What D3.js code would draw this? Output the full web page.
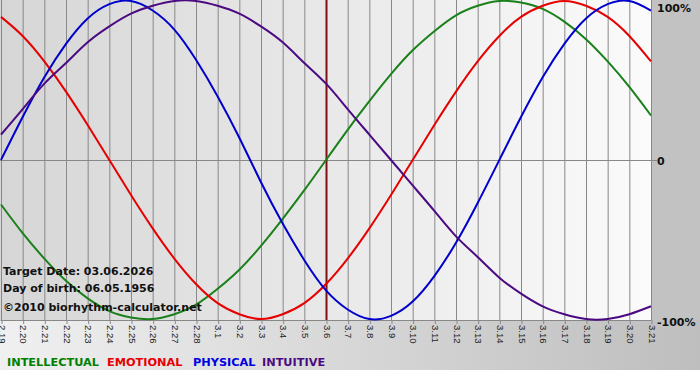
<!DOCTYPE html>
<html>
<head>
<meta charset="UTF-8">
<title>Biorhythm</title>
<script src="https://d3js.org/d3.v7.min.js"></script>
<style>
  body { margin: 0; background: #fff; }
  svg { display: block; font-family: Verdana, "DejaVu Sans", sans-serif; }
</style>
</head>
<body>
<svg id="chart"></svg>
<script>
// days shown (month.day)
const days = ["2.19","2.20","2.21","2.22","2.23","2.24","2.25","2.26","2.27","2.28",
  "3.1","3.2","3.3","3.4","3.5","3.6","3.7","3.8","3.9","3.10","3.11","3.12","3.13",
  "3.14","3.15","3.16","3.17","3.18","3.19","3.20","3.21"];
const targetDay = "3.6";

// values, -1..1
const intellectual = [-0.28,-0.46,-0.62,-0.76,-0.87,-0.95,-0.99,-1.00,-0.97,-0.91,
  -0.81,-0.69,-0.54,-0.37,-0.19,0.00,0.19,0.37,0.54,0.69,0.81,0.91,0.97,1.00,0.99,
  0.95,0.87,0.76,0.62,0.46,0.28];
const emotional = [0.90,0.78,0.62,0.43,0.22,0.00,-0.22,-0.43,-0.62,-0.78,-0.90,-0.97,
  -1.00,-0.97,-0.90,-0.78,-0.62,-0.43,-0.22,0.00,0.22,0.43,0.62,0.78,0.90,0.97,1.00,
  0.97,0.90,0.78,0.62];
const physical = [0.00,0.27,0.52,0.73,0.89,0.98,1.00,0.94,0.82,0.63,0.40,0.14,-0.14,
  -0.40,-0.63,-0.82,-0.94,-1.00,-0.98,-0.89,-0.73,-0.52,-0.27,0.00,0.27,0.52,0.73,
  0.89,0.98,1.00,0.94];
const intuitive = [0.16,0.32,0.48,0.61,0.74,0.84,0.92,0.97,1.00,1.00,0.97,0.92,0.84,
  0.74,0.61,0.48,0.32,0.16,0.00,-0.16,-0.32,-0.48,-0.61,-0.74,-0.84,-0.92,-0.97,
  -1.00,-1.00,-0.97,-0.92];

const seriesNames = ["INTELLECTUAL","EMOTIONAL","PHYSICAL","INTUITIVE"];
const seriesColors = ["#1a801a","#e60000","#0000cc","#4b0a82"];
const legendColors = ["#008000","#e60000","#0000e0","#4b0a82"];
const yLabels = ["100%","0","-100%"];
const yLabelValues = [1, 0, -1];
const infoLines = ["Target Date: 03.06.2026","Day of birth: 06.05.1956","\u00a92010 biorhythm-calculator.net"];

const width = 700, height = 380;
const plotLeft = 1, plotRight = 651, plotTop = 1, plotBottom = 319;

const svg = d3.select("#chart").attr("width", width).attr("height", height);
const defs = svg.append("defs");

const gPlot = defs.append("linearGradient").attr("id", "gPlot");
gPlot.append("stop").attr("offset", "0%").attr("stop-color", "#d6d6d6");
gPlot.append("stop").attr("offset", "100%").attr("stop-color", "#fbfbfb");

const gBottom = defs.append("linearGradient").attr("id", "gBottom");
gBottom.append("stop").attr("offset", "0%").attr("stop-color", "#f0f0f0");
gBottom.append("stop").attr("offset", "100%").attr("stop-color", "#bebebe");

// backgrounds
svg.append("rect").attr("width", width).attr("height", height).attr("fill", "#fff");
svg.append("rect").attr("x", 0).attr("y", 0).attr("width", width).attr("height", 320).attr("fill", "#c2c2c2");
svg.append("rect").attr("x", 0).attr("y", 320).attr("width", width).attr("height", 50).attr("fill", "url(#gBottom)");
svg.append("rect").attr("x", 0).attr("y", 0).attr("width", plotRight + 1).attr("height", 320).attr("fill", "url(#gPlot)");

const x = d3.scalePoint().domain(days).range([plotLeft, plotRight]);
const y = d3.scaleLinear().domain([-1, 1]).range([plotBottom, plotTop]);

// vertical grid
svg.append("g").selectAll("line").data(days).join("line")
  .attr("x1", d => x(d) + 0.5).attr("x2", d => x(d) + 0.5)
  .attr("y1", 0).attr("y2", 320)
  .attr("stroke", "#888").attr("stroke-width", 1);

// zero line
svg.append("line")
  .attr("x1", 0).attr("x2", plotRight + 6)
  .attr("y1", Math.round(y(0)) + 0.5).attr("y2", Math.round(y(0)) + 0.5)
  .attr("stroke", "#888");

// bottom axis
const xAxis = svg.append("g").attr("transform", "translate(0.5,320)")
  .call(d3.axisBottom(x).tickSize(4).tickPadding(0));
xAxis.select(".domain").attr("stroke", "#888").attr("d", `M0,0.5H${plotRight}`);
xAxis.selectAll(".tick line").attr("stroke", "#888");
xAxis.selectAll(".tick text")
  .attr("font-size", 9.5).attr("fill", "#222")
  .attr("text-anchor", "start")
  .attr("transform", "translate(0,5) rotate(90)")
  .attr("x", 0).attr("y", 0).attr("dy", "0.35em");

// right labels
svg.append("g").selectAll("text").data(yLabels).join("text")
  .attr("x", 657)
  .attr("y", (d, i) => y(yLabelValues[i]) + [7, 1, 3][i])
  .attr("dy", "0.35em")
  .attr("font-size", 11).attr("font-weight", "bold").attr("fill", "#111")
  .text(d => d);

// target marker
svg.append("line")
  .attr("x1", x(targetDay) + 0.5).attr("x2", x(targetDay) + 0.5)
  .attr("y1", 0).attr("y2", 320)
  .attr("stroke", "#7a1010").attr("stroke-width", 2);

// curves
const line = d3.line()
  .x((d, i) => x(days[i]))
  .y(d => y(d))
  .curve(d3.curveNatural);
const allSeries = [intellectual, emotional, physical, intuitive];
svg.append("g").selectAll("path").data(allSeries).join("path")
  .attr("d", d => line(d))
  .attr("fill", "none")
  .attr("stroke", (d, i) => seriesColors[i])
  .attr("stroke-width", 2);

// info text
svg.append("g").selectAll("text").data(infoLines).join("text")
  .attr("x", 3)
  .attr("y", (d, i) => [275, 292, 311][i])
  .attr("font-size", 11).attr("font-weight", "bold").attr("fill", "#111")
  .text(d => d);

// legend
const legendX = [7, 107, 193, 262];
svg.append("g").selectAll("text").data(seriesNames).join("text")
  .attr("x", (d, i) => legendX[i]).attr("y", 366)
  .attr("font-size", 11.3).attr("font-weight", "bold")
  .attr("fill", (d, i) => legendColors[i])
  .text(d => d);
</script>
</body>
</html>
